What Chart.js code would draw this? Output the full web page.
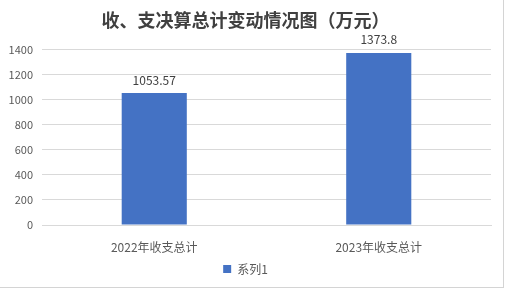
<!DOCTYPE html>
<html>
<head>
<meta charset="utf-8">
<script src="https://cdn.jsdelivr.net/npm/chart.js@4.4.0/dist/chart.umd.min.js"></script>
<style>
    html, body { margin: 0; padding: 0; background: #fff; }
    #wrap {
        position: relative;
        width: 503px;
        height: 287px;
        border-right: 1px solid #d4d4d4;
        border-bottom: 1px solid #d4d4d4;
    }
</style>
</head>
<body>
<div id="wrap"><canvas id="chart"></canvas></div>
<script>
// Données du graphique
const categories = ['2022年收支总计', '2023年收支总计'];
const seriesName = '系列1';
const values = [1053.57, 1373.8];
const valueLabels = ['1053.57', '1373.8'];
const yTicks = [0, 200, 400, 600, 800, 1000, 1200, 1400];

const FONT = '"Noto Sans CJK SC", "Noto Sans", sans-serif';
const BLUE = '#4472c4';
const GRID = '#d9d9d9';
const TEXT = '#595959';

// Étiquettes de valeur au-dessus des barres
const barLabels = {
    id: 'barLabels',
    afterDatasetsDraw(chart) {
        const c = chart.ctx;
        const meta = chart.getDatasetMeta(0);
        c.save();
        c.font = '12px ' + FONT;
        c.fillStyle = '#404040';
        c.textAlign = 'center';
        c.textBaseline = 'bottom';
        meta.data.forEach((bar, i) => {
            c.fillText(valueLabels[i], bar.x, bar.y - 7);
        });
        c.restore();
    }
};

new Chart(document.getElementById('chart'), {
    type: 'bar',
    data: {
        labels: categories,
        datasets: [{
            label: seriesName,
            data: values,
            backgroundColor: BLUE,
            categoryPercentage: 1,
            barPercentage: 0.29
        }]
    },
    options: {
        responsive: true,
        maintainAspectRatio: false,
        animation: false,
        layout: { padding: { top: 0, right: 12, bottom: 2, left: 0 } },
        scales: {
            y: {
                min: 0,
                max: 1400,
                afterBuildTicks: s => { s.ticks = yTicks.map(v => ({ value: v })); },
                afterFit: s => { s.width = 42; },
                grid: { color: GRID, drawTicks: false },
                border: { display: false },
                ticks: {
                    color: TEXT,
                    font: { family: FONT, size: 11 },
                    padding: 9,
                    callback: v => String(v)
                }
            },
            x: {
                afterFit: s => { s.height = 28; },
                grid: { display: false },
                border: { color: GRID },
                ticks: { color: TEXT, font: { family: FONT, size: 12 }, padding: 7 }
            }
        },
        plugins: {
            title: {
                display: true,
                text: '收、支决算总计变动情况图（万元）',
                color: '#404040',
                font: { family: FONT, size: 18, weight: 'bold', lineHeight: 1.2 },
                padding: { top: 9, bottom: 19 }
            },
            legend: {
                position: 'bottom',
                labels: {
                    color: TEXT,
                    font: { family: FONT, size: 12 },
                    boxWidth: 8,
                    boxHeight: 8,
                    padding: 10
                }
            },
            tooltip: { enabled: false }
        }
    },
    plugins: [barLabels]
});
</script>
</body>
</html>
